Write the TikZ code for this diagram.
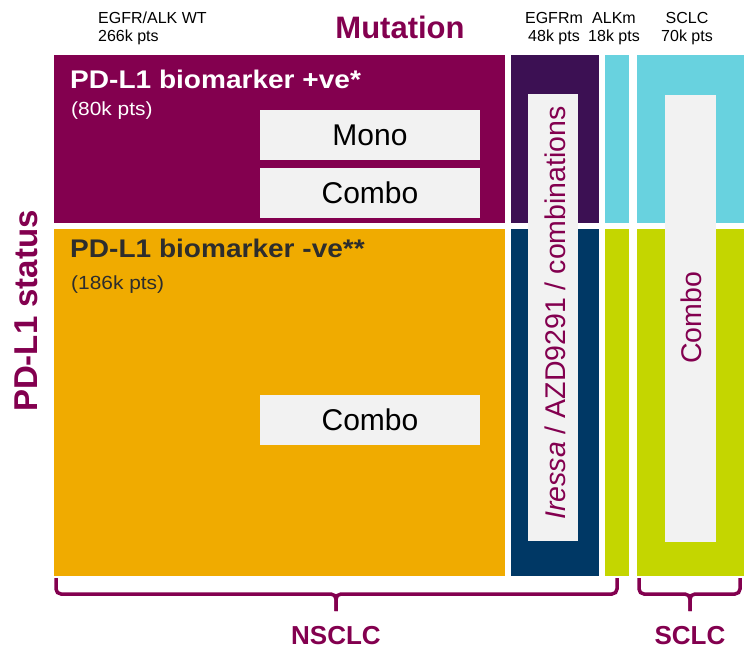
\documentclass[tikz,border=0pt]{standalone}
\usepackage{fontspec}
\setmainfont{Liberation Sans}
\newfontfamily\widefont[FakeStretch=1.1]{Liberation Sans}
\definecolor{cMag}{HTML}{83004F}
\definecolor{cOra}{HTML}{F0AB00}
\definecolor{cPur}{HTML}{3C1053}
\definecolor{cNav}{HTML}{003865}
\definecolor{cCya}{HTML}{68D2DF}
\definecolor{cLim}{HTML}{C4D600}
\definecolor{cGry}{HTML}{F2F2F2}
\definecolor{cDrk}{HTML}{2D2D2D}
\begin{document}
\begin{tikzpicture}[x=1pt,y=-1pt,
  blk/.style={anchor=north west, inner sep=0pt, outer sep=0pt, draw=none},
  gbox/.style={blk, fill=cGry, minimum width=220, minimum height=50,
    font=\fontsize{30}{34}\selectfont, text=black},
  hdr/.style={font=\fontsize{16}{19}\selectfont, text=black, inner sep=0pt, anchor=base},
  rottxt/.style={rotate=90, anchor=base, inner sep=0pt, text=cMag,
    font=\fontsize{28.5}{32}\selectfont},
  brc/.style={draw=cMag, line width=3.5pt, rounded corners=5pt},
  big/.style={inner sep=0pt, anchor=base, text=cMag, font=\fontsize{26}{30}\selectfont\bfseries}
]
\useasboundingbox (0,0) rectangle (744,649);

% main blocks
\node[blk, fill=cMag, minimum width=451, minimum height=168] (pos) at (54,55) {};
\node[blk, fill=cOra, minimum width=451, minimum height=347] (neg) at (54,229) {};
\node[blk, fill=cPur, minimum width=88, minimum height=168] (egfrT) at (511,55) {};
\node[blk, fill=cNav, minimum width=88, minimum height=347] (egfrB) at (511,229) {};
\node[blk, fill=cCya, minimum width=24, minimum height=168] (alkT) at (605,55) {};
\node[blk, fill=cLim, minimum width=24, minimum height=347] (alkB) at (605,229) {};
\node[blk, fill=cCya, minimum width=107, minimum height=168] (sclcT) at (637,55) {};
\node[blk, fill=cLim, minimum width=107, minimum height=347] (sclcB) at (637,229) {};

% inner grey boxes
\node[blk, fill=cGry, minimum width=50, minimum height=447] (egfrIn) at (528,94) {};
\node[blk, fill=cGry, minimum width=51, minimum height=447] (sclcIn) at (665,95) {};
\node[gbox] (mono) at (260,110) {Mono};
\node[gbox] (comboA) at (260,168) {Combo};
\node[gbox] (comboB) at (260,395) {Combo};

% rotated texts
\node[rottxt] (egfrTxt) at (565,313) {\textit{Iressa} / AZD9291 / combinations};
\node[rottxt] (sclcTxt) at (701,318) {Combo};

% block labels
\node[inner sep=0pt, anchor=base west, text=white, font=\fontsize{25.5}{30}\widefont\bfseries] (posT) at (70,88) {PD-L1 biomarker +ve*};
\node[inner sep=0pt, anchor=base west, text=white, font=\fontsize{19}{23}\widefont] (posN) at (71,115) {(80k pts)};
\node[inner sep=0pt, anchor=base west, text=cDrk, font=\fontsize{25.5}{30}\widefont\bfseries] (negT) at (70,257) {PD-L1 biomarker -ve**};
\node[inner sep=0pt, anchor=base west, text=cDrk, font=\fontsize{19}{23}\widefont] (negN) at (71,289) {(186k pts)};

% header
\node[hdr, anchor=base west] (h1a) at (98,23.3) {EGFR/ALK WT};
\node[hdr, anchor=base west] (h1b) at (98,41.7) {266k pts};
\node[inner sep=0pt, anchor=base, text=cMag, font=\fontsize{31}{35}\selectfont\bfseries] (mut) at (400,38.3) {Mutation};
\node[hdr] (h2a) at (554,23.3) {EGFRm};
\node[hdr] (h2b) at (554,41.7) {48k pts};
\node[hdr] (h3a) at (614,23.3) {ALKm};
\node[hdr] (h3b) at (614,41.7) {18k pts};
\node[hdr] (h4a) at (687,23.3) {SCLC};
\node[hdr] (h4b) at (687,41.7) {70k pts};

% left label
\node[inner sep=0pt, rotate=90, anchor=base, text=cMag, font=\fontsize{33}{37}\selectfont\bfseries] (pdl1) at (37,311) {PD-L1 status};

% braces
\coordinate (nL) at (56,578);
\coordinate (nR) at (617,578);
\coordinate (nM) at (336,594);
\coordinate (nT) at (336,611);
\draw[brc] (nL) |- (nM) -- (nT);
\draw[brc] (nR) |- (nM) -- (nT);
\coordinate (sL) at (639,578);
\coordinate (sR) at (740,578);
\coordinate (sM) at (690,594);
\coordinate (sT) at (690,611);
\draw[brc] (sL) |- (sM) -- (sT);
\draw[brc] (sR) |- (sM) -- (sT);
\node[big] (nsclc) at (336,644) {NSCLC};
\node[big] (sclc) at (690,644) {SCLC};
\end{tikzpicture}
\end{document}
